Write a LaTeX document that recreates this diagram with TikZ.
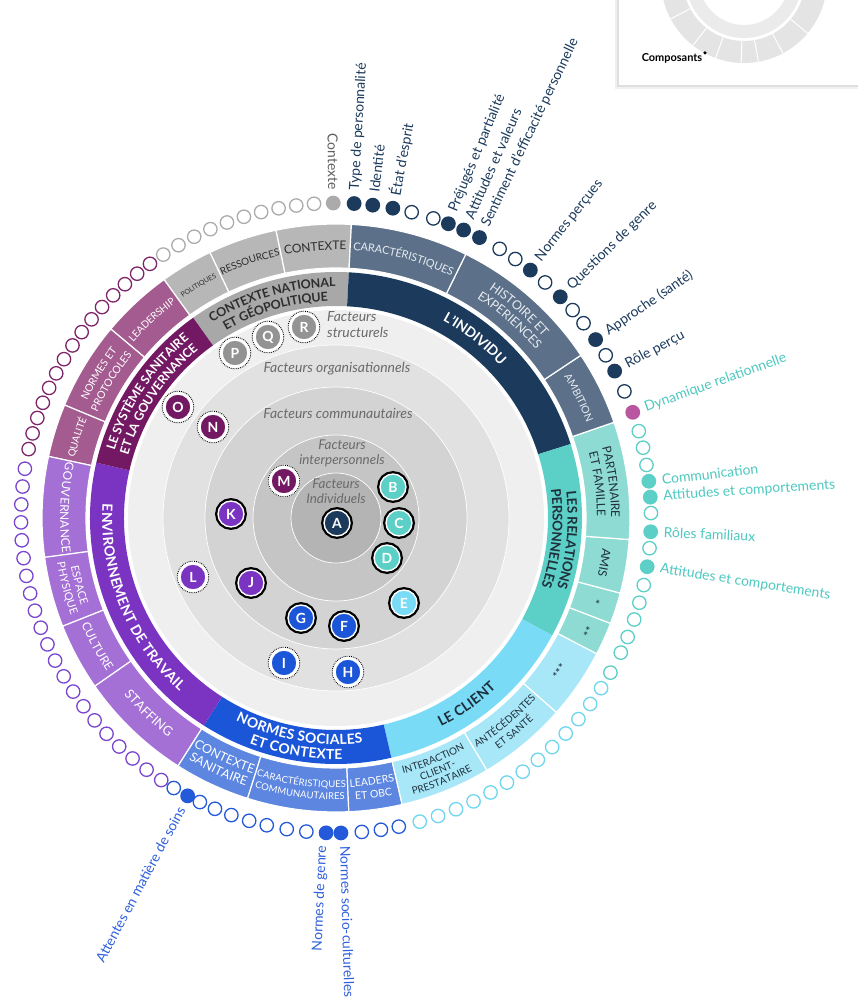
\documentclass[tikz,border=0pt]{standalone}
\usepackage{fontspec}
\setmainfont{Lato}
\usetikzlibrary{decorations.text}

\definecolor{cgray}{HTML}{A8A8A8}
\definecolor{cgrayl}{HTML}{B7B7B7}
\definecolor{cmag}{HTML}{731862}
\definecolor{cmagl}{HTML}{A35B90}
\definecolor{cpur}{HTML}{7B34C2}
\definecolor{cpurl}{HTML}{A470D5}
\definecolor{cblue}{HTML}{1B55D8}
\definecolor{cbluel}{HTML}{5C86E0}
\definecolor{csky}{HTML}{79DBF6}
\definecolor{cskyl}{HTML}{A8E7F8}
\definecolor{cteal}{HTML}{5CCFC6}
\definecolor{ctealL}{HTML}{8DDBD3}
\definecolor{cnavy}{HTML}{1B3A5C}
\definecolor{cnavyl}{HTML}{5C7189}
\definecolor{cbadgegray}{HTML}{939393}
\definecolor{dotgray}{HTML}{ABABAB}
\definecolor{dotmag}{HTML}{7E2468}
\definecolor{dotpur}{HTML}{7A46CF}
\definecolor{dotblue}{HTML}{2459DA}
\definecolor{dotsky}{HTML}{6ED6EE}
\definecolor{dotpink}{HTML}{B8579F}
\definecolor{lblteal}{HTML}{4EC8C0}
\definecolor{lblblue}{HTML}{3060DD}
\definecolor{lblgray}{HTML}{5E5E5E}
\definecolor{txtdark}{HTML}{2E2E2E}
\definecolor{txtnavy}{HTML}{1F2F3C}
\definecolor{txtpale}{HTML}{E6EBF0}
\definecolor{facgray}{HTML}{6A6A6A}
\definecolor{disk1}{HTML}{EFEFEF}
\definecolor{disk2}{HTML}{E1E1E1}
\definecolor{disk3}{HTML}{D3D3D3}
\definecolor{disk4}{HTML}{C5C5C5}
\definecolor{disk5}{HTML}{B4B4B4}
\definecolor{legring}{HTML}{E4E4E4}
\definecolor{legringin}{HTML}{EBEBEB}

\tikzset{
  outerseg/.style={fill=#1, draw=white, line width=1.2pt},
  ringdot/.style={draw=#1, line width=1.3pt, fill=white},
  dotlabel/.style={font=\fontsize{14}{16}\selectfont, inner sep=0pt},
  factext/.style={font=\itshape\fontsize{14}{16}\selectfont, text=facgray, align=center, inner sep=0pt},
  badge/.style={circle, fill=#1, draw=white, line width=1.4pt, minimum size=26pt,
    inner sep=0pt, text=white, font=\bfseries\fontsize{14}{14}\selectfont},
  solidbadge/.style={badge=#1, preaction={draw=black, line width=6pt}},
  dotbadge/.style={badge=#1, preaction={draw=white, line width=7pt}},
}

% ring segment: inner radius, outer radius, from, to, style
\newcommand\ringseg[5]{%
  \path[#5] (#3:#2) arc[start angle=#3, end angle=#4, radius=#2]
    -- (#4:#1) arc[start angle=#4, end angle=#3, radius=#1] -- cycle;}
% curved label: radius, from, to, size, colour, text
\newcommand\arclabel[6]{%
  \path[decorate, decoration={text along path, text align=center, raise=-3.9pt,
    text color=#5, text={|\fontsize{#4}{#4}\selectfont|#6}}]
    (#2:#1) arc[start angle=#2, end angle=#3, radius=#1];}
\newcommand\arcbold[6]{%
  \path[decorate, decoration={text along path, text align=center, raise=-4.8pt,
    text color=#5, text={|\fontsize{#4}{#4}\selectfont\bfseries|#6}}]
    (#2:#1) arc[start angle=#2, end angle=#3, radius=#1];}

\begin{document}
\begin{tikzpicture}[x=1bp, y=1bp]
\path[use as bounding box, fill=white] (-336,-489) rectangle (522,518);

% legend panel, top right
\fill[black!6] (279,429) rectangle (522,518);
\fill[black!13] (281,431) rectangle (522,518);
\fill[white] (283,433) rectangle (522,518);
\begin{scope}
\clip (283,433) rectangle (522,518);
\fill[legring, even odd rule] (408,538) circle[radius=83] circle[radius=61];
\fill[legringin, even odd rule] (408,538) circle[radius=58] circle[radius=45];
\foreach \a in {-152,-128,-110,-92,-80,-62,-40}
  \draw[white, line width=1pt] (408,538) ++(\a:61) -- ++(\a:22);
\end{scope}
\node[font=\bfseries\fontsize{11}{11}\selectfont, inner sep=0pt] (compo) at (336,460) {Composants};
\fill ([shift={(2.5,0)}]compo.north east) circle[radius=1.8];

% nested factor disks
\fill[disk1] (0,0) circle[radius=208];
\filldraw[fill=disk2, draw=white, line width=0.7pt] (0,0) circle[radius=173];
\filldraw[fill=disk3, draw=white, line width=0.7pt] (0,0) circle[radius=131];
\filldraw[fill=disk4, draw=white, line width=0.7pt] (0,0) circle[radius=83];
\filldraw[fill=disk5, draw=white, line width=0.7pt] (0,0) circle[radius=45];
\node[factext, anchor=west, align=left] (fstruct) at (-9,193) {Facteurs\\structurels};
\node[factext] (forga) at (1,149) {Facteurs organisationnels};
\node[factext] (fcomm) at (2,105) {Facteurs communautaires};
\node[factext, font=\itshape\fontsize{13.5}{15}\selectfont] (finter) at (6,65) {Facteurs\\interpersonnels};
\node[factext, font=\itshape\fontsize{13.5}{15}\selectfont] (findiv) at (0,27) {Facteurs\\Individuels};

% inner ring: the seven domains
\ringseg{212}{246}{87}{125.5}{fill=cgray}
\ringseg{212}{246}{17.5}{87}{fill=cnavy}
\ringseg{212}{246}{-28.5}{17.5}{fill=cteal}
\ringseg{212}{246}{-77}{-28.5}{fill=csky}
\ringseg{212}{246}{-122.5}{-77}{fill=cblue}
\ringseg{212}{246}{167}{237.5}{fill=cpur}
\ringseg{212}{246}{125.5}{167}{fill=cmag}
\arcbold{236}{125.5}{87}{12.5}{txtdark}{CONTEXTE NATIONAL}
\arcbold{222}{125.5}{87}{12.5}{txtdark}{ET GÉOPOLITIQUE}
\arcbold{229}{87}{17.5}{14}{white}{L’INDIVIDU}
\arcbold{236.5}{17.5}{-28.5}{13.5}{txtnavy}{LES RELATIONS}
\arcbold{221.5}{17.5}{-28.5}{13.5}{txtnavy}{PERSONNELLES}
\arcbold{229}{-80}{-30}{14}{txtnavy}{LE CLIENT}
\arcbold{221.5}{237.5}{283}{14}{white}{NORMES SOCIALES}
\arcbold{236.5}{237.5}{283}{14}{white}{ET CONTEXTE}
\arcbold{229}{167}{237.5}{14}{white}{ENVIRONNEMENT DE TRAVAIL}
\arcbold{236}{167}{125.5}{12.5}{white}{LE SYSTÈME SANITAIRE}
\arcbold{222}{167}{125.5}{12.5}{white}{ET LA GOUVERNANCE}

% outer ring: components
\ringseg{250}{294}{87}{101.8}{outerseg=cgrayl}
\ringseg{250}{294}{101.8}{115.4}{outerseg=cgrayl}
\ringseg{250}{294}{115.4}{125.8}{outerseg=cgrayl}
\ringseg{250}{294}{125.8}{140}{outerseg=cmagl}
\ringseg{250}{294}{140}{157.4}{outerseg=cmagl}
\ringseg{250}{294}{157.4}{167.9}{outerseg=cmagl}
\ringseg{250}{294}{167.9}{187.7}{outerseg=cpurl}
\ringseg{250}{294}{187.7}{201.6}{outerseg=cpurl}
\ringseg{250}{294}{201.6}{214.9}{outerseg=cpurl}
\ringseg{250}{294}{214.9}{237.5}{outerseg=cpurl}
\ringseg{250}{294}{237.5}{252.5}{outerseg=cbluel}
\ringseg{250}{294}{252.5}{272.5}{outerseg=cbluel}
\ringseg{250}{294}{272.5}{283}{outerseg=cbluel}
\ringseg{250}{294}{283}{300.9}{outerseg=cskyl}
\ringseg{250}{294}{300.9}{318.6}{outerseg=cskyl}
\ringseg{250}{294}{318.6}{332.5}{outerseg=cskyl}
\ringseg{250}{294}{-27.5}{-21}{outerseg=ctealL}
\ringseg{250}{294}{-21}{-14.8}{outerseg=ctealL}
\ringseg{250}{294}{-14.8}{-4.2}{outerseg=ctealL}
\ringseg{250}{294}{-4.2}{19}{outerseg=ctealL}
\ringseg{250}{294}{19}{33.6}{outerseg=cnavyl}
\ringseg{250}{294}{33.6}{63.8}{outerseg=cnavyl}
\ringseg{250}{294}{63.8}{87}{outerseg=cnavyl}
\arclabel{272}{101.8}{87}{12}{txtdark}{CONTEXTE}
\arclabel{272}{115.4}{101.8}{10}{txtdark}{RESSOURCES}
\arclabel{272}{125.8}{115.4}{7}{txtdark}{POLITIQUES}
\arclabel{272}{140}{125.8}{10}{white}{LEADERSHIP}
\arclabel{279}{157.4}{140}{10.5}{white}{NORMES ET}
\arclabel{265}{157.4}{140}{10.5}{white}{PROTOCOLES}
\arclabel{272}{167.9}{157.4}{10}{white}{QUALITÉ}
\arclabel{272}{167.9}{187.7}{12}{white}{GOUVERNANCE}
\arclabel{265.5}{187.7}{201.6}{11}{white}{ESPACE}
\arclabel{278.5}{187.7}{201.6}{11}{white}{PHYSIQUE}
\arclabel{272}{201.6}{214.9}{12}{white}{CULTURE}
\arclabel{272}{214.9}{237.5}{13}{white}{STAFFING}
\arclabel{265}{237.5}{252.5}{12.5}{white}{CONTEXTE}
\arclabel{279}{237.5}{252.5}{12.5}{white}{SANITAIRE}
\arclabel{266}{252.5}{272.5}{9.5}{white}{CARACTÉRISTIQUES}
\arclabel{278}{252.5}{272.5}{9.5}{white}{COMMUNAUTAIRES}
\arclabel{265.5}{272.5}{283}{10.5}{white}{LEADERS}
\arclabel{278.5}{272.5}{283}{10.5}{white}{ET OBC}
\arclabel{260.5}{283}{300.9}{10}{txtnavy}{INTERACTION}
\arclabel{272}{283}{300.9}{10}{txtnavy}{CLIENT-}
\arclabel{283.5}{283}{300.9}{10}{txtnavy}{PRESTATAIRE}
\arclabel{265.5}{300.9}{318.6}{10}{txtnavy}{ANTÉCÉDENTES}
\arclabel{278.5}{300.9}{318.6}{10}{txtnavy}{ET SANTÉ}
\arclabel{272}{318.6}{332.5}{12}{txtnavy}{***}
\arclabel{272}{-21}{-27.5}{12}{txtnavy}{**}
\arclabel{272}{-14.8}{-21}{12}{txtnavy}{*}
\arclabel{272}{-4.2}{-14.8}{12}{txtnavy}{AMIS}
\arclabel{279}{19}{-4.2}{12}{txtnavy}{PARTENAIRE}
\arclabel{265}{19}{-4.2}{12}{txtnavy}{ET FAMILLE}
\arclabel{272}{33.6}{19}{10.5}{txtpale}{AMBITION}
\arclabel{279}{63.8}{33.6}{12.5}{txtpale}{HISTOIRE ET}
\arclabel{265}{63.8}{33.6}{12.5}{txtpale}{EXPERIENCES}
\arclabel{272}{87}{63.8}{11}{txtpale}{CARACTÉRISTIQUES}

% dot ring: empty dots
\foreach \i [evaluate=\i as \a using 94+3.25*\i] in {0,...,9}
  \draw[ringdot=dotgray] (\a:315) circle[radius=6.7];
\foreach \i [evaluate=\i as \a using 126.2+2.94*\i] in {0,...,14}
  \draw[ringdot=dotmag] (\a:315) circle[radius=6.7];
\foreach \i [evaluate=\i as \a using 171+3.265*\i] in {0,...,20}
  \draw[ringdot=dotpur] (\a:315) circle[radius=6.7];
\foreach \a in {239,244.4,247.4,250.6,254,257.3,261,264.6,274.7,278.2,281.5}
  \draw[ringdot=dotblue] (\a:315) circle[radius=6.7];
\foreach \i [evaluate=\i as \a using -32.7-3.49*\i] in {0,...,12}
  \draw[ringdot=dotsky] (\a:315) circle[radius=6.7];
\foreach \a in {16,12.9,9.7,0.9,-5.5,-12.3,-15.6,-18.8,-22.2,-25.3,-29.4}
  \draw[ringdot=cteal] (\a:315) circle[radius=6.7];
\foreach \a in {23.7,31.1,38.2,41.3,48.4,55.3,58.7,72,76.1}
  \draw[ringdot=cnavy] (\a:315) circle[radius=6.7];

% dot ring: filled dots and their labels (angle / text angle / text)
\foreach \a/\r/\t [count=\k] in {86.7/86.7/Type de personnalité, 83.3/83.3/Identité,
    79.6/79.6/État d'esprit, 69.1/67.5/Préjugés et partialité,
    66.1/66/Attitudes et valeurs, 62.9/64.5/Sentiment d'efficacité personnelle,
    51.9/51.9/Normes perçues, 44.6/44.6/Questions de genre,
    34.5/34.5/Approche (santé), 27.8/27.8/Rôle perçu}{
  \fill[cnavy] (\a:315) circle[radius=7.4];
  \node[dotlabel, text=cnavy, anchor=west, rotate=\r] (navy\k) at (\a:328) {\t};
}
\foreach \a/\t [count=\k] in {6.7/Communication, 3.8/Attitudes et comportements,
    -2.5/Rôles familiaux, -8.9/Attitudes et comportements}{
  \fill[cteal] (\a:315) circle[radius=7.4];
  \node[dotlabel, text=lblteal, anchor=west, rotate=\a] (teal\k) at (\a:328) {\t};
}
\fill[dotpink] (19.6:315) circle[radius=7.4];
\node[dotlabel, text=lblteal, anchor=west, rotate=19.6] (dyn) at (19.6:328) {Dynamique relationnelle};
\fill[dotgray] (90.5:315) circle[radius=7.4];
\node[dotlabel, text=lblgray, anchor=east, rotate=-89.5] (ctx) at (90.5:328) {Contexte};
\fill[dotblue] (241.9:315) circle[radius=7.4];
\node[dotlabel, text=lblblue, anchor=east, rotate=61.9] (soins) at (241.9:328) {Attentes en matière de soins};
\fill[dotblue] (268.2:315) circle[radius=7.4];
\node[dotlabel, text=lblblue, anchor=east, rotate=87.6] (genre) at (267.6:328) {Normes de genre};
\fill[dotblue] (270.9:315) circle[radius=7.4];
\node[dotlabel, text=lblblue, anchor=west, rotate=-88.4] (socio) at (271.6:328) {Normes socio-culturelles};

% lettered badges
\node[solidbadge=cnavy] (A) at (1,-5) {A};
\node[solidbadge=cteal] (B) at (57,31) {B};
\node[solidbadge=cteal] (C) at (63,-5) {C};
\node[solidbadge=cteal] (D) at (51,-40) {D};
\node[solidbadge=csky] (E) at (68,-85) {E};
\node[solidbadge=cblue] (F) at (8,-108) {F};
\node[solidbadge=cblue] (G) at (-35,-100) {G};
\node[dotbadge=cblue] (H) at (12,-154) {H};
\node[dotbadge=cblue] (I) at (-52,-145) {I};
\node[solidbadge=cpur] (J) at (-85,-65) {J};
\node[solidbadge=cpur] (K) at (-105,4) {K};
\node[dotbadge=cpur] (L) at (-143,-59) {L};
\node[dotbadge=cmag] (M) at (-52,37) {M};
\node[dotbadge=cmag] (N) at (-123,91) {N};
\node[dotbadge=cmag] (O) at (-158,111) {O};
\node[dotbadge=cbadgegray] (P) at (-101,165) {P};
\node[dotbadge=cbadgegray] (Q) at (-68,181) {Q};
\node[dotbadge=cbadgegray] (R) at (-32,191) {R};
\foreach \n in {H,I,L,M,N,O,P,Q,R}
  \draw[densely dotted, line width=0.9pt] (\n.center) circle[radius=15.8];
\end{tikzpicture}
\end{document}
